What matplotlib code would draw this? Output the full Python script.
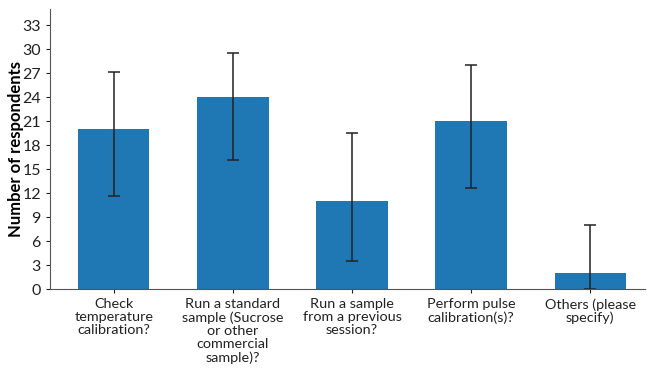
import matplotlib.pyplot as plt
import numpy as np

categories = [
    "Check\ntemperature\ncalibration?",
    "Run a standard\nsample (Sucrose\nor other\ncommercial\nsample)?",
    "Run a sample\nfrom a previous\nsession?",
    "Perform pulse\ncalibration(s)?",
    "Others (please\nspecify)",
]
counts = [20, 24, 11, 21, 2]
err_low = [11.6, 16.2, 3.5, 12.6, 0]
err_high = [27.2, 29.6, 19.5, 28.0, 8.0]

plt.rcParams['font.family'] = ['Lato', 'DejaVu Sans']

fig = plt.figure(figsize=(6.47, 3.68), dpi=100)
ax = fig.add_axes([0.0773, 0.2139, 0.9197, 0.7608])

x = np.arange(len(categories))
yerr = [np.array(counts) - np.array(err_low), np.array(err_high) - np.array(counts)]
ax.bar(x, counts, width=0.6, color='#1f77b4')
ax.errorbar(x, counts, yerr=yerr, fmt='none', ecolor='#222222', elinewidth=1.1,
            capsize=4.5, capthick=1.1)

ax.set_xlim(-0.535, 4.46)
ax.set_ylim(0, 35)
ax.set_yticks(range(0, 34, 3))
ax.set_xticks(x)
ax.set_xticklabels(categories, fontsize=10.4, linespacing=1.1)
ax.tick_params(axis='y', labelsize=11.5, length=3, colors='#222222')
ax.tick_params(axis='x', length=3, colors='#222222')
ax.set_ylabel("Number of respondents", fontsize=12, fontweight='bold')
ax.yaxis.set_label_coords(-0.044, 0.5)

ax.spines['top'].set_visible(False)
ax.spines['right'].set_visible(False)
ax.spines['left'].set_color('#555555')
ax.spines['bottom'].set_color('#555555')

fig.savefig("out.png", dpi=100)
